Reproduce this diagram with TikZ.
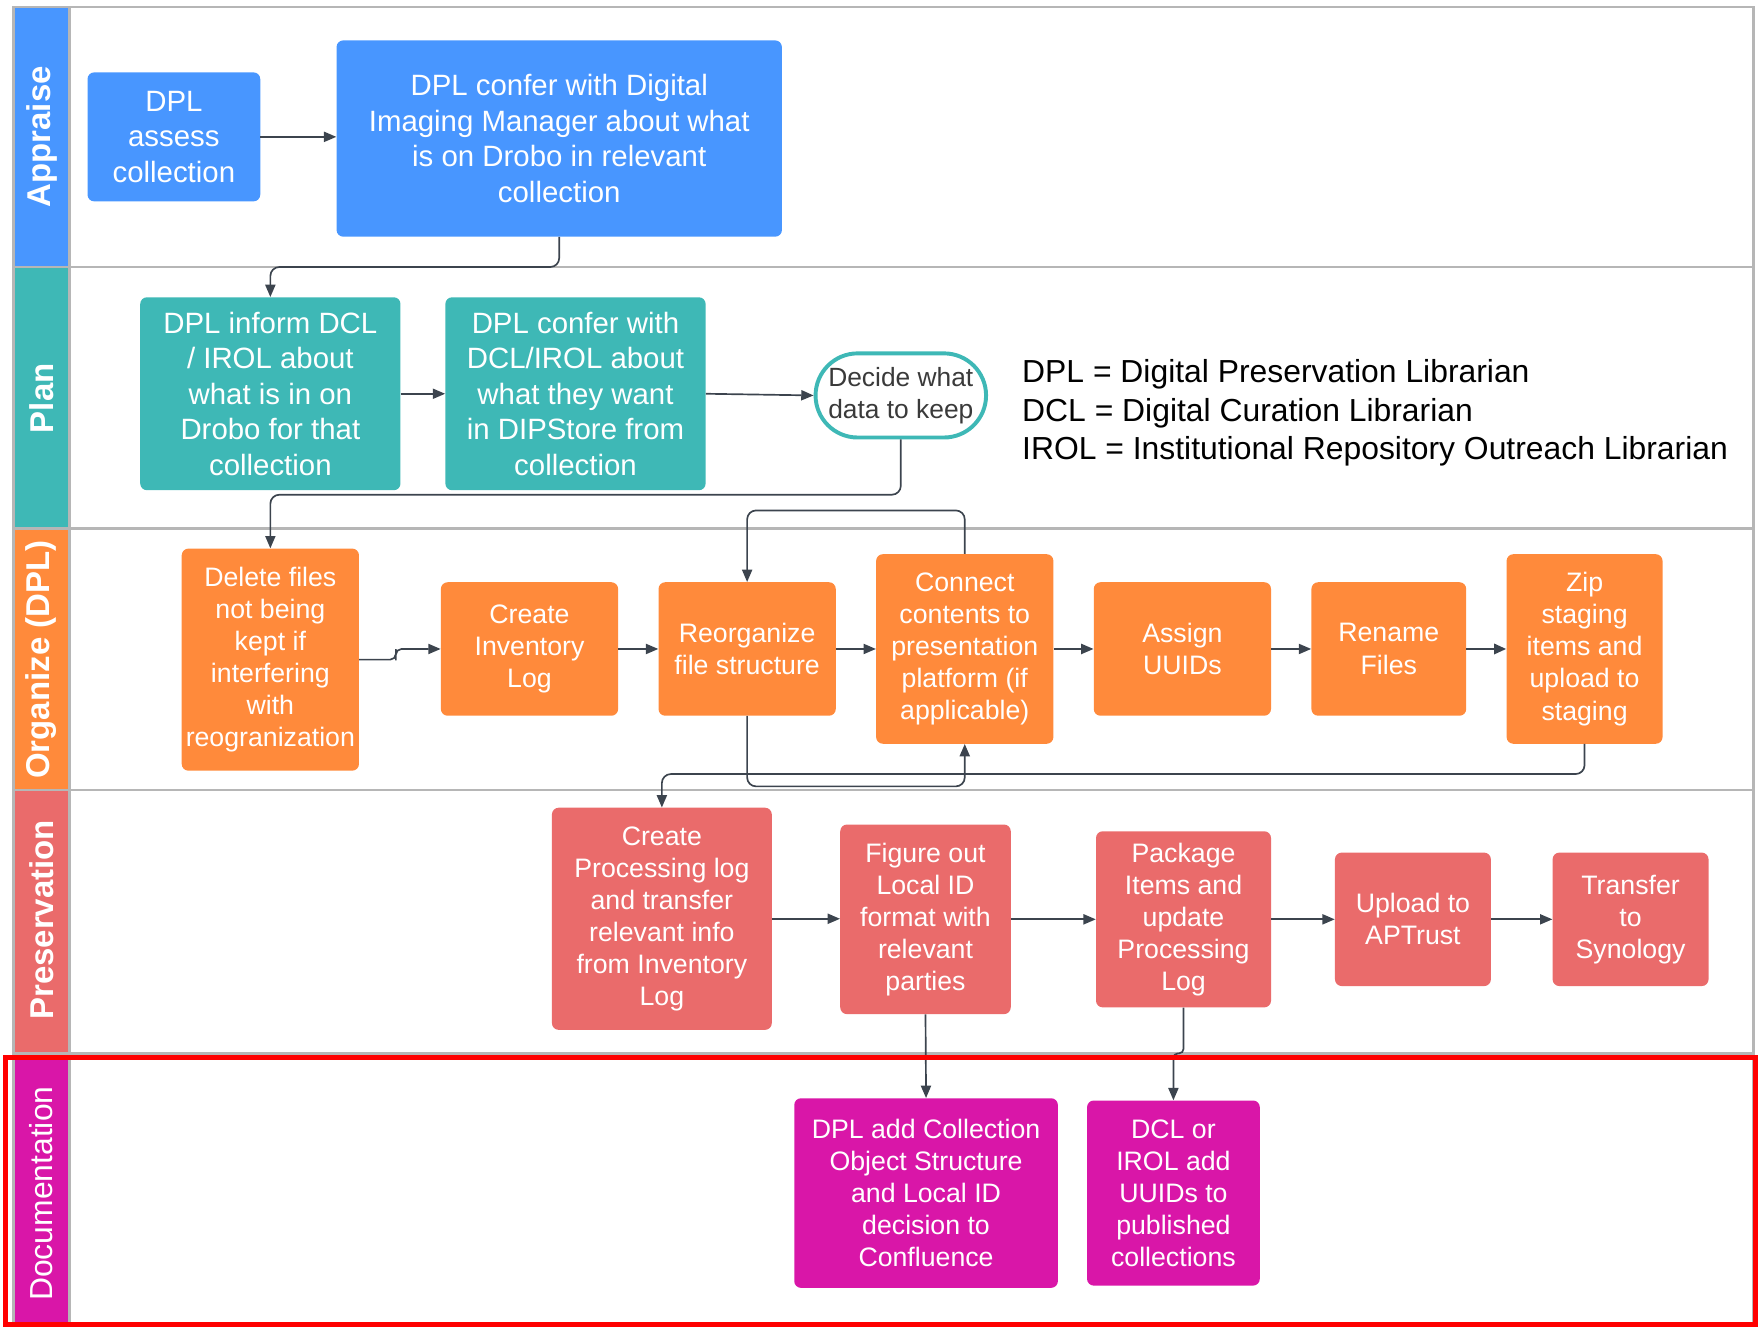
\documentclass[tikz,border=0pt]{standalone}
\usepackage{fontspec}
\setmainfont{Liberation Sans}
\usetikzlibrary{arrows.meta,calc,shapes.misc}
\definecolor{cBlue}{RGB}{72,150,255}
\definecolor{cTeal}{RGB}{62,184,182}
\definecolor{cOrange}{RGB}{255,138,59}
\definecolor{cRed}{RGB}{234,107,107}
\definecolor{cMag}{RGB}{217,22,168}
\definecolor{cLine}{RGB}{60,68,78}
\definecolor{cFrame}{RGB}{182,182,182}
\definecolor{cDark}{RGB}{58,58,58}
\tikzset{
  box/.style={rounded corners=6pt, text=white, align=center, inner sep=0pt, draw=none},
  fA/.style={font=\fontsize{26.2}{31.7}\selectfont},
  fB/.style={font=\fontsize{23.8}{28.6}\selectfont},
  arr/.style={draw=cLine, line width=1.5pt, -{Triangle[length=11pt,width=9pt]}, rounded corners=8pt},
  lanelbl/.style={rotate=90, text=white, font=\bfseries\fontsize{29.4}{32}\selectfont},
  frameline/.style={draw=cFrame, line width=2pt}
}
\begin{document}
\begin{tikzpicture}[x=1pt,y=-1pt]
\useasboundingbox (0,0) rectangle (1568,1183);
% lane label bands
\fill[cBlue] (12,6) rectangle (62,238);
\fill[cTeal] (12,238) rectangle (62,471);
\fill[cOrange] (12,471) rectangle (62,704);
\fill[cRed] (12,704) rectangle (62,939);
\fill[cMag] (12,939) rectangle (62,1180);
% frame
\draw[frameline] (12,6) rectangle (1563,1180);
\draw[frameline] (62,6) -- (62,1180);
\foreach \yy in {238,471,704,939} \draw[frameline] (12,\yy) -- (1563,\yy);
% lane labels
\node[lanelbl] (LA) at (37,122) {Appraise};
\node[lanelbl] (LP) at (37,355) {Plan};
\node[lanelbl] (LO) at (37,588) {Organize (DPL)};
\node[lanelbl] (LR) at (37,820) {Preservation};
\node[rotate=90, text=white, font=\fontsize{28.4}{32}\selectfont] (LD) at (37,1064) {Documentation};

% Appraise
\node[box, fA, fill=cBlue, minimum width=154pt, minimum height=115pt] (A1) at (155,122) {DPL\\assess\\collection};
\node[box, fA, fill=cBlue, minimum width=397pt, minimum height=175pt] (A2) at (498.5,123.5) {DPL confer with Digital\\Imaging Manager about what\\is on Drobo in relevant\\collection};

% Plan
\node[box, fA, fill=cTeal, minimum width=232pt, minimum height=172pt] (P1) at (241,351) {DPL inform DCL\\/ IROL about\\what is in on\\Drobo for that\\collection};
\node[box, fA, fill=cTeal, minimum width=232pt, minimum height=172pt] (P2) at (513,351) {DPL confer with\\DCL/IROL about\\what they want\\in DIPStore from\\collection};
\node[rounded rectangle, draw=cTeal, line width=3.5pt, fill=white, minimum width=152pt, minimum height=75pt, inner sep=0pt, align=center, text=cDark, font=\fontsize{23.5}{28.5}\selectfont] (P3) at (803,352.5) {Decide what\\data to keep};
\node[anchor=west, align=left, font=\fontsize{28.4}{34}\selectfont, inner sep=0pt] (LEG) at (911,368) {DPL = Digital Preservation Librarian\\DCL = Digital Curation Librarian\\IROL = Institutional Repository Outreach Librarian};

% Organize
\node[box, fB, fill=cOrange, minimum width=158pt, minimum height=198pt] (O1) at (241,588) {Delete files\\not being\\kept if\\interfering\\with\\reogranization};
\node[box, fB, fill=cOrange, minimum width=158pt, minimum height=119pt] (O2) at (472,578.5) {Create\\Inventory\\Log};
\node[box, fB, fill=cOrange, minimum width=158pt, minimum height=119pt] (O3) at (666,578.5) {Reorganize\\file structure};
\node[box, fB, fill=cOrange, minimum width=158pt, minimum height=169pt] (O4) at (860,578.5) {Connect\\contents to\\presentation\\platform (if\\applicable)};
\node[box, fB, fill=cOrange, minimum width=158pt, minimum height=119pt] (O5) at (1054,578.5) {Assign\\UUIDs};
\node[box, fB, fill=cOrange, minimum width=138pt, minimum height=119pt] (O6) at (1238,578.5) {Rename\\Files};
\node[box, fB, fill=cOrange, minimum width=139pt, minimum height=169pt] (O7) at (1412.5,578.5) {Zip\\staging\\items and\\upload to\\staging};

% Preservation
\node[box, fB, fill=cRed, minimum width=196pt, minimum height=198pt] (R1) at (590,819) {Create\\Processing log\\and transfer\\relevant info\\from Inventory\\Log};
\node[box, fB, fill=cRed, minimum width=152pt, minimum height=169pt] (R2) at (825,819.5) {Figure out\\Local ID\\format with\\relevant\\parties};
\node[box, fB, fill=cRed, minimum width=156pt, minimum height=157pt] (R3) at (1055,819.5) {Package\\Items and\\update\\Processing\\Log};
\node[box, fB, fill=cRed, minimum width=139pt, minimum height=119pt] (R4) at (1259.5,819.5) {Upload to\\APTrust};
\node[box, fB, fill=cRed, minimum width=139pt, minimum height=119pt] (R5) at (1453.5,819.5) {Transfer\\to\\Synology};

% Documentation
\node[box, fB, fill=cMag, minimum width=235pt, minimum height=169pt] (D1) at (825.5,1063.5) {DPL add Collection\\Object Structure\\and Local ID\\decision to\\Confluence};
\node[box, fB, fill=cMag, minimum width=154pt, minimum height=165pt] (D2) at (1046,1063.5) {DCL or\\IROL add\\UUIDs to\\published\\collections};

% connectors
\draw[arr] (A1.east) -- (A2.west |- A1.east);
\draw[arr] (A2.south) -- (A2.south |- 0,238) -| (P1.north);
\draw[arr] (P1.east) -- (P2.west);
\draw[arr] (P2.east) -- (P3.west);
\draw[arr] (P3.south) -- (P3.south |- 0,441) -| (O1.north);
\draw[arr, rounded corners=5pt] (O1.east) -| ($(O1.east)!0.45!(O2.west)$) |- (O2.west);
\draw[arr] (O2.east) -- (O3.west);
\draw[arr] (O3.east) -- (O4.west);
\draw[arr] (O4.east) -- (O5.west);
\draw[arr] (O5.east) -- (O6.west);
\draw[arr, line width=2.6pt] (O6.east) -- (O7.west);
\draw[arr] (O4.north) -- (O4.north |- 0,455) -| (O3.north);
\draw[arr] (O3.south) -- (O3.south |- 0,701) -| (O4.south);
\draw[arr] (O7.south) -- (O7.south |- 0,690) -| (R1.north);
\draw[arr] (R1.east) -- (R2.west |- R1.east);
\draw[arr] (R2.east) -- (R3.west);
\draw[arr] (R3.east) -- (R4.west);
\draw[arr] (R4.east) -- (R5.west);
\draw[arr] (R2.south) -- (D1.north);
\draw[arr, rounded corners=4pt] (R3.south) -- (R3.south |- 0,939) -| (D2.north);

% red highlight
\draw[red, line width=4.5pt] (5,943) rectangle (1565,1180.5);
\end{tikzpicture}
\end{document}
